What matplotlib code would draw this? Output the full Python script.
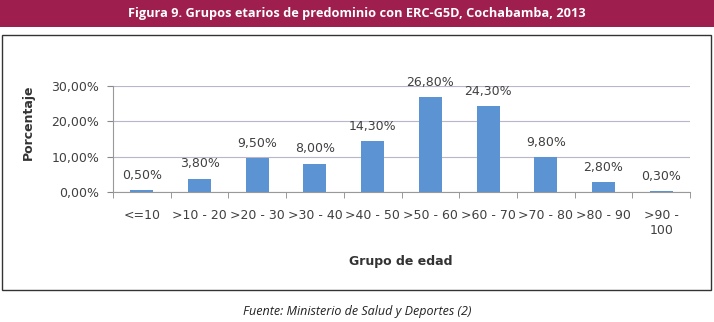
import numpy as np
import matplotlib.pyplot as plt
from matplotlib.patches import Rectangle

# grupos de edad y porcentajes
grupos = ['<=10', '>10 - 20', '>20 - 30', '>30 - 40', '>40 - 50',
          '>50 - 60', '>60 - 70', '>70 - 80', '>80 - 90', '>90 -\n100']
porcentaje = [0.5, 3.8, 9.5, 8.0, 14.3, 26.8, 24.3, 9.8, 2.8, 0.3]
yticks = [0, 10, 20, 30]

W, H = 714, 322
fig = plt.figure(figsize=(W/100, H/100), dpi=100)

# banda del titulo
fig.patches.append(Rectangle((0, 1-27/H), 1, 27/H, transform=fig.transFigure,
                             facecolor='#9e1f4e', edgecolor='none', zorder=0))
fig.text(0.5, 1-14/H, 'Figura 9. Grupos etarios de predominio con ERC-G5D, Cochabamba, 2013',
         ha='center', va='center', color='white', fontsize=9.2, fontweight='bold',
         family='Open Sans')

# marco del grafico
fig.patches.append(Rectangle((2/W, 1-290/H), 709/W, 255/H, transform=fig.transFigure,
                             facecolor='none', edgecolor='#333333', linewidth=1.0))

ax = fig.add_axes([113/W, 1-192/H, 577/W, 106/H])
x = np.arange(len(grupos))
ax.bar(x, porcentaje, width=0.4, color='#5b93d3', zorder=2)
for xi, v in zip(x, porcentaje):
    ax.annotate(f'{v:.2f}%'.replace('.', ','), (xi, v), xytext=(0, 6),
                textcoords='offset points', ha='center', va='bottom',
                fontsize=9, color='#404040')

ax.set_xlim(-0.5, len(grupos)-0.5)
ax.set_ylim(0, 30)
ax.set_yticks(yticks)
ax.set_yticklabels([f'{t:.2f}%'.replace('.', ',') for t in yticks])
ax.yaxis.grid(True, color='#bcb4c8', linewidth=0.8, zorder=0)
ax.set_axisbelow(True)

ax.set_xticks(x)
ax.set_xticklabels(grupos)
ax.set_xticks(np.arange(-0.5, len(grupos)), minor=True)
ax.tick_params(axis='x', which='major', length=0, pad=12, labelsize=9, colors='#404040')
ax.tick_params(axis='x', which='minor', length=4, color='#888888')
ax.tick_params(axis='y', length=4, color='#888888', labelsize=9, labelcolor='#404040', pad=6)

for s in ['top', 'right']:
    ax.spines[s].set_visible(False)
for s in ['left', 'bottom']:
    ax.spines[s].set_color('#999999')
    ax.spines[s].set_linewidth(0.8)

fig.text(401/W, 1-262/H, 'Grupo de edad', ha='center', va='center',
         fontsize=9, fontweight='bold', color='#333333')
fig.text(28/W, 1-122/H, 'Porcentaje', ha='center', va='center', rotation=90,
         fontsize=9, fontweight='bold', color='#333333')

fig.text(0.5, 1-311/H, 'Fuente: Ministerio de Salud y Deportes (2)', ha='center',
         va='center', fontsize=9, style='italic', color='#222222', family='Open Sans')

fig.savefig('out.png', dpi=100)
